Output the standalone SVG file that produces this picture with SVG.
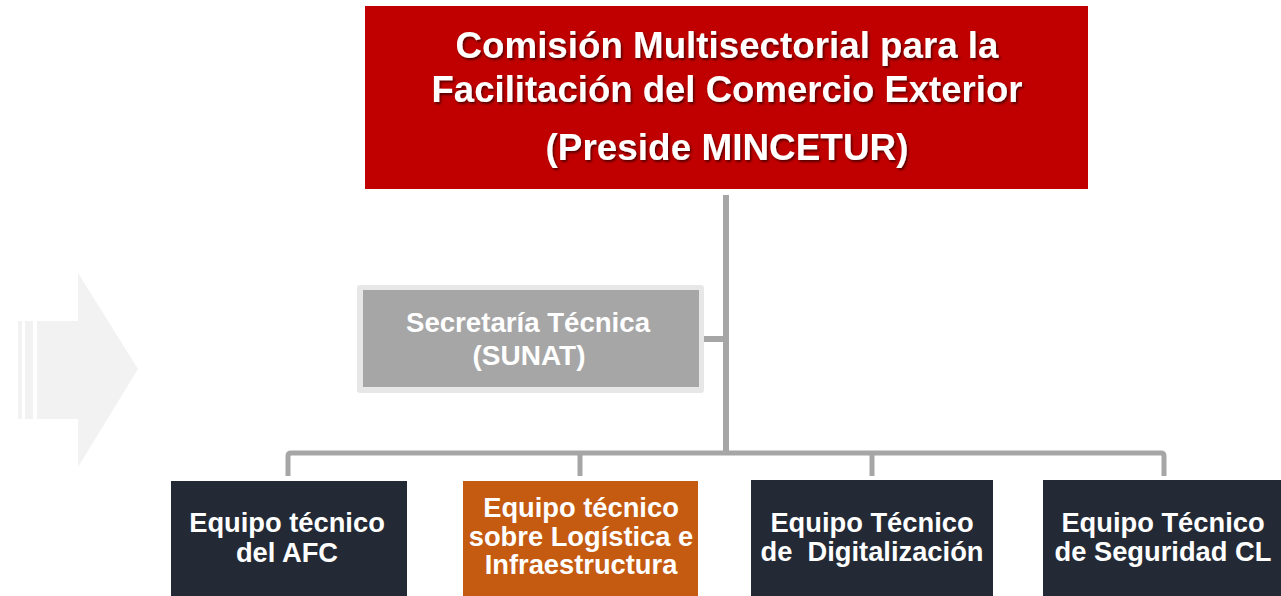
<svg xmlns="http://www.w3.org/2000/svg" width="1281" height="596" viewBox="0 0 1281 596">
<defs>
<style>
.t{font-family:"Liberation Sans",Arial,sans-serif;font-weight:bold;fill:#ffffff;text-anchor:middle;}
.top{font-size:36px;}
.mid{font-size:28px;}
.bot{font-size:27.3px;}
.con{stroke:#a6a6a6;fill:none;stroke-width:5;}
.deco{fill:#f2f2f2;}
</style>
<filter id="sh" x="-5%" y="-20%" width="110%" height="150%">
<feDropShadow dx="1.5" dy="2" stdDeviation="1" flood-color="#000000" flood-opacity="0.55"/>
</filter>
</defs>
<rect width="1281" height="596" fill="#ffffff"/>
<g id="arrow-deco">
<rect class="deco" x="18" y="321" width="4" height="98"/>
<rect class="deco" x="25" y="321" width="8" height="98"/>
<polygon class="deco" points="37,321 78,321 78,273 138,369 78,467 78,419 37,419"/>
</g>
<g id="connectors">
<line class="con" x1="726" y1="195" x2="726" y2="453" style="stroke-width:6"/>
<line class="con" x1="703" y1="339" x2="726" y2="339" style="stroke-width:6"/>
<path class="con" d="M288,476 V456 Q288,453 291,453 H1161 Q1164,453 1164,456 V476"/>
<line class="con" x1="580" y1="453" x2="580" y2="476"/>
<line class="con" x1="872" y1="453" x2="872" y2="476"/>
</g>
<g id="comision">
<rect x="365" y="6" width="723" height="183" fill="#c00000"/>
<g filter="url(#sh)">
<text class="t top" x="727" y="58" textLength="543" lengthAdjust="spacingAndGlyphs">Comisión Multisectorial para la</text>
<text class="t top" x="727" y="102" textLength="591" lengthAdjust="spacingAndGlyphs">Facilitación del Comercio Exterior</text>
<text class="t top" x="727" y="160" textLength="363" lengthAdjust="spacingAndGlyphs">(Preside MINCETUR)</text>
</g>
</g>
<g id="secretaria">
<rect x="357" y="285" width="347" height="108" rx="3" fill="#e7e7e7"/>
<rect x="363" y="290" width="336" height="97" fill="#a6a6a6"/>
<text class="t mid" x="528" y="332" textLength="244" lengthAdjust="spacingAndGlyphs">Secretaría Técnica</text>
<text class="t mid" x="529" y="365">(SUNAT)</text>
</g>
<g id="equipo-afc">
<rect x="171" y="481" width="236" height="115" fill="#232a35"/>
<text class="t bot" x="287" y="532">Equipo técnico</text>
<text class="t bot" x="287" y="562">del AFC</text>
</g>
<g id="equipo-logistica">
<rect x="463" y="481" width="235" height="115" fill="#c55a11"/>
<text class="t bot" x="581" y="517">Equipo técnico</text>
<text class="t bot" x="581" y="546">sobre Logística e</text>
<text class="t bot" x="581" y="574">Infraestructura</text>
</g>
<g id="equipo-digitalizacion">
<rect x="751" y="480" width="242" height="116" fill="#232a35"/>
<text class="t bot" x="872" y="532">Equipo Técnico</text>
<text class="t bot" x="872" y="561" xml:space="preserve">de  Digitalización</text>
</g>
<g id="equipo-seguridad">
<rect x="1043" y="480" width="238" height="116" fill="#232a35"/>
<text class="t bot" x="1163" y="532">Equipo Técnico</text>
<text class="t bot" x="1163" y="561">de Seguridad CL</text>
</g>
</svg>
